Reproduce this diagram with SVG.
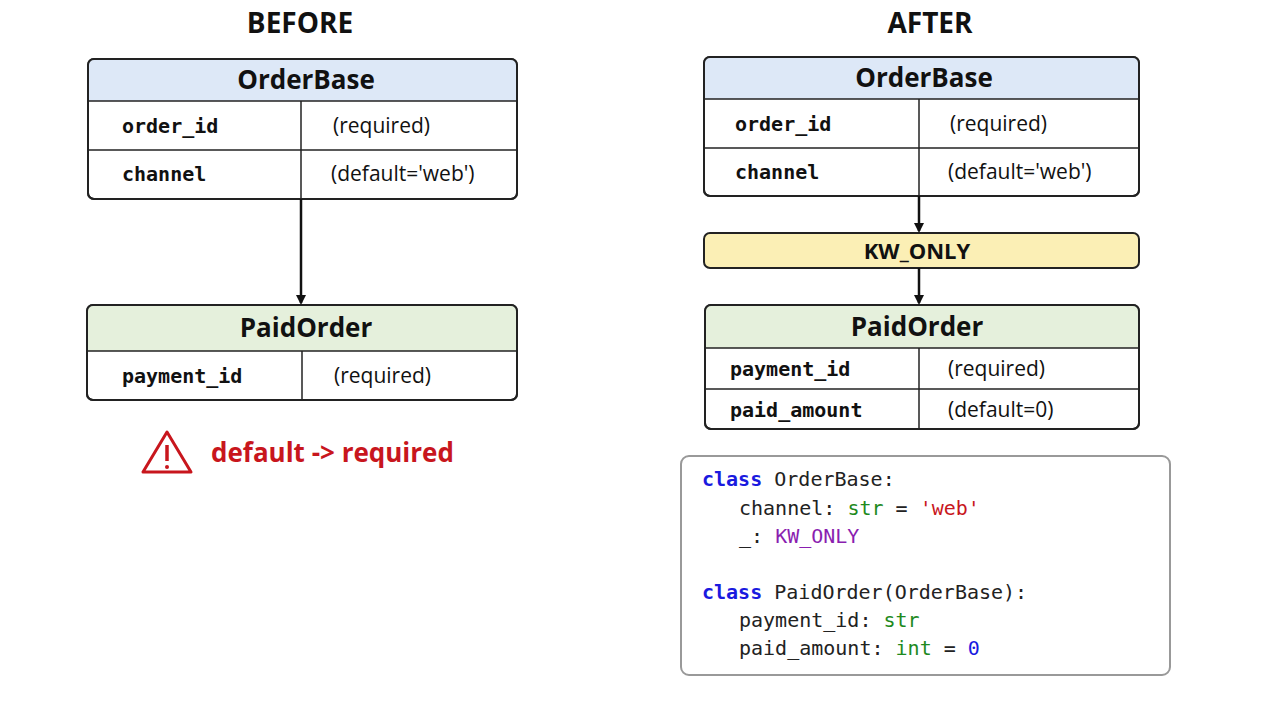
<svg xmlns="http://www.w3.org/2000/svg" width="1280" height="702" viewBox="0 0 1280 702">
<style>
.box{fill:#fff;stroke:#222;stroke-width:2}
.ln{stroke:#222;stroke-width:1.5}
.ttl{font:bold 28px "Open Sans","Liberation Sans",Arial,sans-serif;text-anchor:middle;fill:#111}
.hd{font:bold 26px "Open Sans","Liberation Sans",sans-serif;text-anchor:middle;fill:#111}
.f{font:bold 20px "DejaVu Sans Mono",monospace;fill:#111}
.v{font:21px "Open Sans","Liberation Sans",sans-serif;fill:#111}
.c{font:20px "DejaVu Sans Mono",monospace;fill:#222}
.arr{stroke:#111;stroke-width:2.5;fill:none}
</style>
<defs><marker id="ah" markerWidth="10" markerHeight="10" refX="8" refY="5" orient="auto" markerUnits="userSpaceOnUse" viewBox="0 0 10 10"><path d="M0,0 L10,5 L0,10z" fill="#111"/></marker></defs>
<rect width="1280" height="702" fill="#fff"/>
<text class="ttl" x="300" y="33">BEFORE</text>
<text class="ttl" x="930" y="33">AFTER</text>
<g id="before-orderbase">
<rect class="box" x="88" y="59" width="429" height="140" rx="6"/>
<path d="M89,60 H516 V101 H89Z" fill="#dde8f7"/>
<line class="ln" x1="88" y1="101" x2="517" y2="101"/><line class="ln" x1="88" y1="150" x2="517" y2="150"/><line class="ln" x1="301" y1="101" x2="301" y2="199"/>
<rect x="88" y="59" width="429" height="140" rx="6" fill="none" stroke="#222" stroke-width="2"/>
<text class="hd" x="306" y="89">OrderBase</text>
<text class="f" x="122" y="133">order_id</text><text class="v" x="333" y="133">(required)</text>
<text class="f" x="122" y="181">channel</text><text class="v" x="331" y="181">(default='web')</text>
</g>
<g id="before-paidorder">
<rect class="box" x="87" y="305" width="430" height="95" rx="6"/>
<path d="M88,306 H516 V351 H88Z" fill="#e5f0dc"/>
<line class="ln" x1="87" y1="351" x2="517" y2="351"/><line class="ln" x1="302" y1="351" x2="302" y2="400"/>
<rect x="87" y="305" width="430" height="95" rx="6" fill="none" stroke="#222" stroke-width="2"/>
<text class="hd" x="306" y="337">PaidOrder</text>
<text class="f" x="122" y="383">payment_id</text><text class="v" x="334" y="383">(required)</text>
</g>
<g id="warning">
<path d="M167,432 L191,472 H143Z" fill="none" stroke="#c8161d" stroke-width="3" stroke-linejoin="round"/>
<line x1="167" y1="445" x2="167" y2="461" stroke="#c8161d" stroke-width="3.5"/><circle cx="167" cy="467" r="2" fill="#c8161d"/>
<text x="211" y="462" font-family="Open Sans,Liberation Sans,sans-serif" font-size="26" font-weight="bold" fill="#c8161d">default -&gt; required</text>
</g>
<g id="after-orderbase">
<rect class="box" x="704" y="57" width="435" height="139" rx="6"/>
<path d="M705,58 H1138 V99 H705Z" fill="#dde8f7"/>
<line class="ln" x1="704" y1="99" x2="1139" y2="99"/><line class="ln" x1="704" y1="148" x2="1139" y2="148"/><line class="ln" x1="919" y1="99" x2="919" y2="196"/>
<rect x="704" y="57" width="435" height="139" rx="6" fill="none" stroke="#222" stroke-width="2"/>
<text class="hd" x="924" y="87">OrderBase</text>
<text class="f" x="735" y="131">order_id</text><text class="v" x="950" y="131">(required)</text>
<text class="f" x="735" y="179">channel</text><text class="v" x="948" y="179">(default='web')</text>
</g>
<g id="kwonly">
<rect x="704" y="233" width="435" height="35" rx="6" fill="#fbefb5" stroke="#222" stroke-width="2"/>
<text x="917" y="259" text-anchor="middle" font-family="Open Sans,Liberation Sans,sans-serif" font-size="22" font-weight="bold" fill="#111">KW_ONLY</text>
</g>
<g id="after-paidorder">
<rect class="box" x="705" y="305" width="434" height="124" rx="6"/>
<path d="M706,306 H1138 V348 H706Z" fill="#e5f0dc"/>
<line class="ln" x1="705" y1="348" x2="1139" y2="348"/><line class="ln" x1="705" y1="389" x2="1139" y2="389"/><line class="ln" x1="919" y1="348" x2="919" y2="429"/>
<rect x="705" y="305" width="434" height="124" rx="6" fill="none" stroke="#222" stroke-width="2"/>
<text class="hd" x="917" y="336">PaidOrder</text>
<text class="f" x="730" y="376">payment_id</text><text class="v" x="948" y="376">(required)</text>
<text class="f" x="730" y="417">paid_amount</text><text class="v" x="948" y="417">(default=0)</text>
</g>
<g id="connectors">
<line class="arr" x1="301" y1="199" x2="301" y2="303" marker-end="url(#ah)"/>
<line class="arr" x1="919" y1="196" x2="919" y2="231" marker-end="url(#ah)"/>
<line class="arr" x1="919" y1="268" x2="919" y2="303" marker-end="url(#ah)"/>
</g>
<g id="code">
<rect x="681" y="456" width="489" height="219" rx="8" fill="#fff" stroke="#999" stroke-width="2"/>
<text class="c" x="702" y="486"><tspan fill="#1a1adf" font-weight="bold">class</tspan> OrderBase:</text>
<text class="c" x="739" y="515">channel: <tspan fill="#1e8a1e">str</tspan> = <tspan fill="#c8161d">'web'</tspan></text>
<text class="c" x="739" y="543">_: <tspan fill="#8a1eb0">KW_ONLY</tspan></text>
<text class="c" x="702" y="599"><tspan fill="#1a1adf" font-weight="bold">class</tspan> PaidOrder(OrderBase):</text>
<text class="c" x="739" y="627">payment_id: <tspan fill="#1e8a1e">str</tspan></text>
<text class="c" x="739" y="655">paid_amount: <tspan fill="#1e8a1e">int</tspan> = <tspan fill="#1a1adf">0</tspan></text>
</g>
</svg>
